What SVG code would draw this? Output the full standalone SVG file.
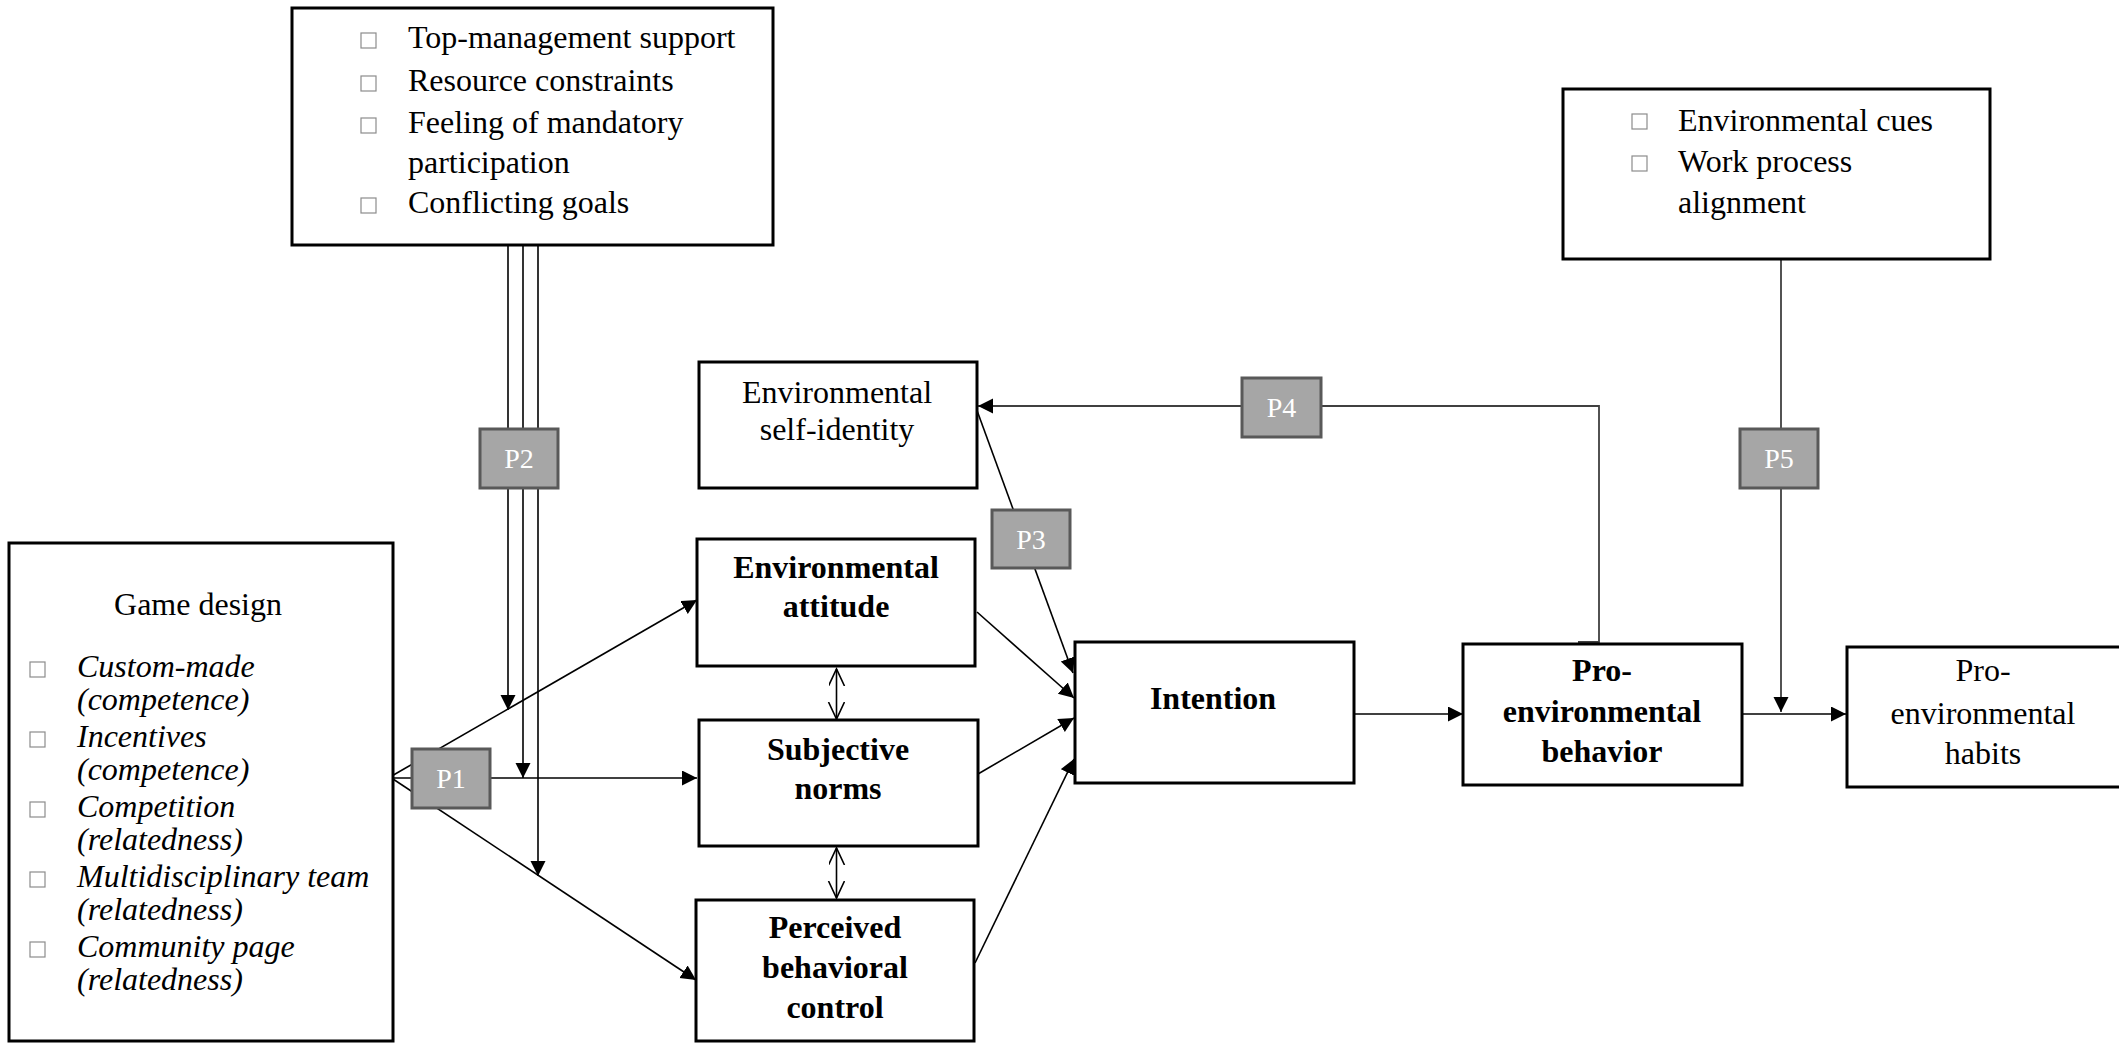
<svg xmlns="http://www.w3.org/2000/svg" width="2119" height="1044" viewBox="0 0 2119 1044">
<defs>
<style>
text{font-family:"Liberation Serif","Times New Roman",serif;font-size:32px;fill:#000}
.b{font-weight:bold}
.i{font-style:italic}
.c{text-anchor:middle}
.box{fill:#fff;stroke:#000;stroke-width:3}
.pb{fill:#a6a6a6;stroke:#595959;stroke-width:3}
.pt{fill:#fff;font-size:28px;text-anchor:middle}
.bul{fill:#fff;stroke:#8c8c8c;stroke-width:1.2}
.ln{fill:none;stroke:#000;stroke-width:1.6}
.gl{fill:none;stroke:#404040;stroke-width:1.8}
</style>
<marker id="ah" markerUnits="userSpaceOnUse" markerWidth="16" markerHeight="16" refX="15" refY="7.5" orient="auto"><path d="M0,0 L15,7.5 L0,15 z" fill="#000"/></marker>
<marker id="oh" markerUnits="userSpaceOnUse" markerWidth="20" markerHeight="20" refX="17" refY="8" orient="auto-start-reverse"><path d="M0,0 L17,8 L0,16" fill="none" stroke="#000" stroke-width="1.6"/></marker>
</defs>
<rect width="2119" height="1044" fill="#fff"/>
<g id="connectors">
<line class="ln" x1="390" y1="777" x2="697" y2="600" marker-end="url(#ah)"/>
<line class="ln" x1="390" y1="778" x2="697" y2="778" marker-end="url(#ah)"/>
<line class="ln" x1="390" y1="777" x2="696" y2="980" marker-end="url(#ah)"/>
<line class="ln" x1="508" y1="246" x2="508" y2="710" marker-end="url(#ah)"/>
<line class="ln" x1="523" y1="246" x2="523" y2="778" marker-end="url(#ah)"/>
<line class="ln" x1="538" y1="246" x2="538" y2="876" marker-end="url(#ah)"/>
<line class="ln" x1="975" y1="405" x2="1073" y2="673" marker-end="url(#ah)"/>
<line class="ln" x1="977" y1="612" x2="1074" y2="698" marker-end="url(#ah)"/>
<line class="ln" x1="978" y1="774" x2="1074" y2="718" marker-end="url(#ah)"/>
<line class="ln" x1="975" y1="963" x2="1074" y2="759" marker-end="url(#ah)"/>
<line class="ln" x1="836.5" y1="669" x2="836.5" y2="719" marker-start="url(#oh)" marker-end="url(#oh)"/>
<line class="ln" x1="836.5" y1="848" x2="836.5" y2="898" marker-start="url(#oh)" marker-end="url(#oh)"/>
<polyline class="gl" points="1578,642 1599,642 1599,406 978,406" marker-end="url(#ah)"/>
<line class="ln" x1="1354" y1="714" x2="1463" y2="714" marker-end="url(#ah)"/>
<line class="ln" x1="1742" y1="714" x2="1846" y2="714" marker-end="url(#ah)"/>
<line class="gl" x1="1781" y1="259" x2="1781" y2="712" marker-end="url(#ah)"/>
</g>
<g id="barriers">
<rect class="box" x="292" y="8" width="481" height="237"/>
<rect class="bul" x="361" y="33" width="15" height="15"/>
<rect class="bul" x="361" y="76" width="15" height="15"/>
<rect class="bul" x="361" y="118" width="15" height="15"/>
<rect class="bul" x="361" y="198" width="15" height="15"/>
<text x="408" y="48">Top-management support</text>
<text x="408" y="91">Resource constraints</text>
<text x="408" y="133">Feeling of mandatory</text>
<text x="408" y="173">participation</text>
<text x="408" y="213">Conflicting goals</text>
</g>
<g id="game-design">
<rect class="box" x="9" y="543" width="384" height="498"/>
<text class="c" x="198" y="615">Game design</text>
<rect class="bul" x="30" y="662" width="15" height="15"/>
<rect class="bul" x="30" y="732" width="15" height="15"/>
<rect class="bul" x="30" y="802" width="15" height="15"/>
<rect class="bul" x="30" y="872" width="15" height="15"/>
<rect class="bul" x="30" y="942" width="15" height="15"/>
<text class="i" x="77" y="677">Custom-made</text>
<text class="i" x="77" y="710">(competence)</text>
<text class="i" x="77" y="747">Incentives</text>
<text class="i" x="77" y="780">(competence)</text>
<text class="i" x="77" y="817">Competition</text>
<text class="i" x="77" y="850">(relatedness)</text>
<text class="i" x="77" y="887">Multidisciplinary team</text>
<text class="i" x="77" y="920">(relatedness)</text>
<text class="i" x="77" y="957">Community page</text>
<text class="i" x="77" y="990">(relatedness)</text>
</g>
<g id="env-self-identity">
<rect class="box" x="699" y="362" width="278" height="126"/>
<text class="c" x="837" y="403">Environmental</text>
<text class="c" x="837" y="440">self-identity</text>
</g>
<g id="env-attitude">
<rect class="box" x="697" y="539" width="278" height="127"/>
<text class="c b" x="836" y="578">Environmental</text>
<text class="c b" x="836" y="617">attitude</text>
</g>
<g id="subjective-norms">
<rect class="box" x="699" y="720" width="279" height="126"/>
<text class="c b" x="838" y="760">Subjective</text>
<text class="c b" x="838" y="799">norms</text>
</g>
<g id="pbc">
<rect class="box" x="696" y="900" width="278" height="141"/>
<text class="c b" x="835" y="938">Perceived</text>
<text class="c b" x="835" y="978">behavioral</text>
<text class="c b" x="835" y="1018">control</text>
</g>
<g id="intention">
<rect class="box" x="1075" y="642" width="279" height="141"/>
<text class="c b" x="1213" y="709">Intention</text>
</g>
<g id="pro-env-behavior">
<rect class="box" x="1463" y="644" width="279" height="141"/>
<text class="c b" x="1602" y="681">Pro-</text>
<text class="c b" x="1602" y="722">environmental</text>
<text class="c b" x="1602" y="762">behavior</text>
</g>
<g id="pro-env-habits">
<rect class="box" x="1847" y="647" width="280" height="140"/>
<text class="c" x="1983" y="681">Pro-</text>
<text class="c" x="1983" y="724">environmental</text>
<text class="c" x="1983" y="764">habits</text>
</g>
<g id="cues">
<rect class="box" x="1563" y="89" width="427" height="170"/>
<rect class="bul" x="1632" y="114" width="15" height="15"/>
<rect class="bul" x="1632" y="156" width="15" height="15"/>
<text x="1678" y="131">Environmental cues</text>
<text x="1678" y="172">Work process</text>
<text x="1678" y="213">alignment</text>
</g>
<g id="P1"><rect class="pb" x="412" y="749" width="78" height="59"/><text class="pt" x="451" y="788">P1</text></g>
<g id="P2"><rect class="pb" x="480" y="429" width="78" height="59"/><text class="pt" x="519" y="468">P2</text></g>
<g id="P3"><rect class="pb" x="992" y="510" width="78" height="58"/><text class="pt" x="1031" y="549">P3</text></g>
<g id="P4"><rect class="pb" x="1242" y="378" width="79" height="59"/><text class="pt" x="1281.5" y="417">P4</text></g>
<g id="P5"><rect class="pb" x="1740" y="429" width="78" height="59"/><text class="pt" x="1779" y="468">P5</text></g>
</svg>
